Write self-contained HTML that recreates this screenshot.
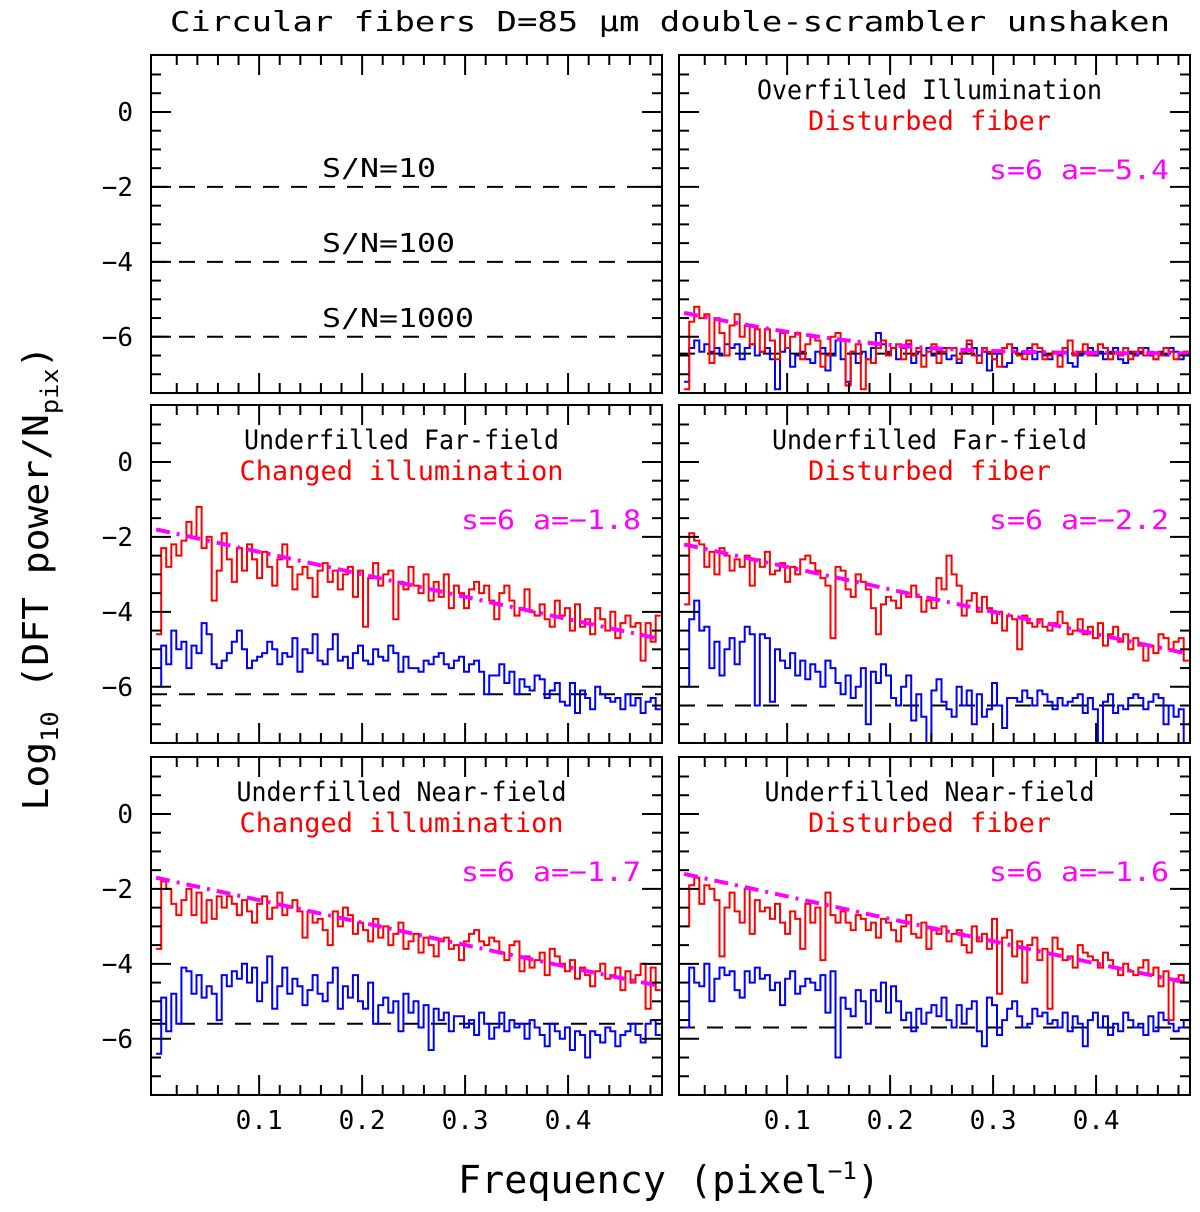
<!DOCTYPE html>
<html><head><meta charset="utf-8"><style>
body{margin:0;background:#fff}
svg text{font-family:"DejaVu Sans Mono","Liberation Mono",monospace}
</style></head><body>
<svg id="chart" width="1200" height="1207" viewBox="0 0 1200 1207" xmlns="http://www.w3.org/2000/svg">
<text x="670" y="31" font-size="28" text-anchor="middle" textLength="1000" lengthAdjust="spacingAndGlyphs">Circular fibers D=85 μm double-scrambler unshaken</text>
<text x="669" y="1193" font-size="38" text-anchor="middle" textLength="422" lengthAdjust="spacingAndGlyphs">Frequency (pixel<tspan dy="-14" font-size="24">−1</tspan><tspan dy="14">)</tspan></text>
<text transform="translate(48,578) rotate(-90)" font-size="36" text-anchor="middle" textLength="465" lengthAdjust="spacingAndGlyphs">Log<tspan dy="10" font-size="24">10</tspan><tspan dy="-10"> (DFT power/N</tspan><tspan dy="10" font-size="24">pix</tspan><tspan dy="-10">)</tspan></text>
<g id="panels"></g>
</svg>
<script>
const xTickLabels=["0.1","0.2","0.3","0.4"];
const xTickValues=[0.1,0.2,0.3,0.4];
const yTickValues=[0,-2,-4,-6];
const binWidth=0.0049;
const trRed=[-7.4,-5.6,-5.2,-5.5,-5.4,-6.7,-5.5,-5.9,-6.5,-5.7,-5.4,-6.0,-5.7,-6.2,-5.8,-6.4,-5.8,-6.1,-6.6,-5.9,-6.3,-6.0,-5.9,-6.6,-6.2,-6.0,-6.1,-6.8,-6.5,-6.0,-5.9,-6.1,-7.3,-6.4,-6.2,-7.4,-6.6,-6.7,-6.3,-6.1,-6.5,-6.3,-6.2,-6.6,-6.1,-6.5,-6.3,-6.8,-6.4,-6.2,-6.7,-6.4,-6.3,-6.3,-6.6,-6.4,-6.1,-6.5,-6.7,-6.3,-6.4,-6.6,-6.8,-6.3,-6.2,-6.4,-6.5,-6.6,-6.4,-6.2,-6.3,-6.6,-6.5,-6.4,-6.8,-6.3,-6.1,-6.5,-6.4,-6.2,-6.5,-6.4,-6.2,-6.3,-6.6,-6.4,-6.5,-6.3,-6.6,-6.4,-6.3,-6.5,-6.4,-6.6,-6.5,-6.3,-6.4,-6.6,-6.5,-6.4];
const trBlue=[-7.2,-6.3,-6.1,-6.4,-6.2,-6.4,-6.3,-6.5,-6.2,-6.3,-6.2,-6.6,-6.3,-6.2,-6.5,-6.4,-6.3,-6.6,-7.4,-6.4,-6.3,-6.8,-6.5,-6.4,-6.6,-6.7,-6.4,-6.3,-6.9,-6.5,-6.1,-6.6,-7.2,-6.4,-6.7,-6.4,-6.6,-6.3,-5.9,-6.2,-6.4,-6.3,-6.6,-6.3,-6.2,-6.7,-6.4,-6.5,-6.3,-6.5,-6.4,-6.3,-6.6,-6.5,-6.7,-6.4,-6.2,-6.3,-6.5,-6.4,-6.9,-6.6,-6.4,-6.8,-6.7,-6.3,-6.5,-6.4,-6.3,-6.6,-6.4,-6.5,-6.6,-6.4,-6.5,-6.3,-6.7,-6.8,-6.5,-6.4,-6.3,-6.5,-6.4,-6.6,-6.4,-6.3,-6.6,-6.7,-6.4,-6.5,-6.4,-6.3,-6.5,-6.6,-6.4,-6.5,-6.3,-6.4,-6.6,-6.4];
const mlRed=[-4.6,-2.3,-2.8,-2.2,-2.5,-2.1,-1.6,-2.0,-1.2,-2.3,-2.0,-3.7,-2.9,-1.9,-2.6,-3.2,-2.3,-2.9,-2.2,-2.6,-3.1,-2.4,-2.8,-3.3,-2.6,-2.2,-2.8,-3.4,-3.0,-2.8,-3.1,-3.6,-2.9,-2.7,-3.2,-2.9,-3.4,-3.0,-2.8,-3.6,-2.9,-4.4,-3.1,-2.7,-3.3,-3.0,-2.9,-4.2,-3.2,-3.4,-2.8,-3.3,-3.5,-3.0,-3.7,-3.2,-3.6,-3.0,-3.9,-3.3,-3.5,-3.9,-3.4,-3.2,-3.5,-3.3,-3.7,-4.2,-3.5,-3.3,-3.7,-4.1,-3.9,-3.4,-4.0,-4.1,-3.8,-4.2,-4.4,-3.7,-4.1,-3.9,-4.5,-3.8,-4.4,-4.2,-4.6,-3.9,-4.2,-4.5,-4.0,-4.7,-4.3,-4.1,-4.4,-4.3,-5.3,-4.3,-4.8,-4.1];
const mlBlue=[-6.0,-4.9,-5.4,-4.5,-5.0,-4.8,-5.5,-4.9,-5.1,-4.3,-4.6,-5.4,-5.5,-5.3,-5.1,-4.8,-4.5,-5.0,-5.5,-5.3,-5.2,-5.1,-4.8,-5.0,-5.4,-5.1,-5.2,-4.7,-5.6,-5.0,-5.1,-4.6,-5.3,-5.4,-5.0,-4.6,-5.3,-5.2,-5.5,-5.1,-4.9,-5.3,-5.4,-5.0,-5.2,-5.3,-4.9,-5.1,-5.6,-5.2,-5.5,-5.5,-5.6,-5.3,-5.4,-5.2,-5.1,-5.4,-5.5,-5.3,-5.2,-5.6,-5.4,-5.3,-5.6,-6.2,-5.7,-5.7,-5.4,-5.9,-5.6,-6.2,-5.8,-6.0,-6.1,-5.7,-5.8,-6.3,-6.1,-5.9,-6.4,-6.5,-5.9,-6.7,-6.1,-6.3,-6.6,-6.0,-6.2,-6.3,-6.4,-6.3,-6.6,-6.2,-6.5,-6.3,-6.7,-6.4,-6.3,-6.6];
const mrRed=[-3.8,-1.9,-2.1,-2.2,-2.8,-2.4,-3.0,-2.3,-2.5,-2.9,-2.6,-2.8,-2.5,-3.3,-2.6,-2.8,-2.4,-3.0,-2.9,-2.7,-3.2,-2.8,-3.0,-2.6,-2.5,-2.7,-2.9,-3.1,-3.3,-4.7,-2.8,-2.9,-3.4,-3.6,-3.0,-3.2,-3.4,-3.9,-4.6,-3.8,-3.6,-3.7,-3.9,-3.5,-3.6,-3.3,-3.6,-4.0,-3.7,-3.9,-3.1,-3.4,-2.5,-3.0,-3.3,-4.1,-3.7,-3.5,-4.0,-3.6,-3.9,-4.3,-4.0,-4.5,-4.1,-4.2,-5.0,-4.1,-4.3,-4.4,-4.2,-4.4,-4.5,-4.3,-4.0,-4.3,-4.6,-4.5,-4.2,-4.6,-4.4,-4.7,-4.3,-4.9,-4.6,-4.4,-4.8,-4.6,-5.0,-4.7,-4.9,-5.3,-4.9,-5.1,-4.6,-4.7,-5.0,-4.8,-4.7,-5.3];
const mrBlue=[-6.0,-4.2,-3.7,-4.5,-4.4,-5.5,-4.8,-5.7,-5.0,-4.7,-5.4,-4.8,-4.4,-4.6,-6.5,-4.6,-4.7,-6.4,-5.0,-5.3,-5.5,-5.1,-5.7,-5.3,-5.8,-5.4,-5.6,-6.0,-5.3,-5.5,-5.9,-6.2,-5.7,-6.3,-6.0,-5.5,-7.0,-5.6,-5.9,-5.4,-5.7,-6.3,-6.5,-6.0,-5.7,-6.9,-6.2,-6.8,-7.6,-6.1,-5.8,-6.4,-6.6,-6.8,-6.0,-6.5,-6.1,-7.0,-6.2,-6.8,-6.6,-5.9,-6.5,-7.1,-6.3,-6.3,-6.4,-6.1,-6.3,-6.5,-6.1,-6.2,-6.4,-6.6,-6.3,-6.5,-6.4,-6.3,-6.2,-6.7,-6.3,-6.6,-7.5,-6.4,-6.2,-6.7,-6.5,-6.6,-6.3,-6.2,-6.3,-6.6,-6.4,-6.2,-6.3,-7.0,-6.5,-6.8,-6.6,-7.5];
const blRed=[-3.6,-1.8,-2.0,-2.4,-2.7,-2.3,-2.0,-2.7,-2.1,-2.9,-2.3,-2.8,-2.2,-2.5,-2.2,-2.4,-2.7,-2.3,-2.6,-2.9,-2.4,-2.2,-2.8,-2.5,-2.1,-2.7,-2.5,-2.3,-2.6,-3.3,-2.6,-2.9,-2.8,-3.1,-3.5,-2.6,-3.0,-2.5,-2.7,-3.2,-2.9,-3.1,-3.4,-2.8,-3.3,-3.0,-3.5,-3.2,-2.9,-3.6,-3.4,-3.2,-3.7,-3.3,-3.5,-3.8,-3.4,-3.3,-3.6,-3.5,-3.9,-3.4,-3.2,-3.1,-3.4,-3.5,-3.3,-3.4,-3.7,-3.9,-3.5,-3.4,-4.2,-3.8,-4.1,-3.9,-3.7,-4.3,-3.6,-3.8,-4.0,-4.2,-3.9,-4.4,-4.1,-4.3,-4.6,-4.2,-4.0,-4.4,-4.3,-4.1,-4.7,-4.2,-4.5,-4.3,-4.0,-5.2,-4.1,-4.7];
const blBlue=[-6.4,-4.9,-5.8,-4.8,-5.6,-4.1,-4.2,-4.8,-4.3,-4.9,-4.6,-4.8,-5.5,-4.3,-4.6,-4.2,-4.4,-4.0,-4.5,-4.1,-5.0,-4.5,-3.8,-5.2,-4.6,-4.1,-4.8,-4.4,-4.6,-5.1,-4.7,-4.3,-4.8,-5.0,-4.5,-4.1,-5.2,-4.6,-4.9,-4.3,-5.0,-5.2,-4.5,-5.6,-5.1,-4.9,-5.3,-5.0,-5.8,-4.8,-5.3,-5.0,-5.7,-5.1,-6.3,-5.2,-5.5,-5.3,-5.8,-5.4,-5.4,-5.7,-5.5,-5.9,-5.3,-5.6,-6.0,-5.7,-5.3,-5.8,-5.5,-5.7,-5.6,-6.0,-5.5,-5.7,-5.9,-6.2,-5.6,-5.8,-6.0,-5.7,-6.3,-5.8,-5.9,-6.5,-5.8,-5.9,-6.1,-5.7,-5.8,-6.2,-5.9,-5.8,-5.6,-5.9,-6.1,-5.6,-5.5,-5.9];
const brRed=[-3.0,-1.9,-1.7,-2.4,-1.9,-2.0,-2.3,-3.8,-2.5,-2.1,-2.6,-2.9,-2.0,-3.2,-2.3,-2.6,-2.5,-2.8,-2.4,-2.9,-3.2,-2.6,-2.8,-3.6,-2.4,-2.9,-2.5,-3.9,-2.1,-2.7,-2.9,-2.6,-2.9,-3.1,-2.7,-2.8,-3.1,-2.9,-3.3,-2.8,-2.9,-3.1,-3.4,-3.0,-2.7,-3.2,-3.3,-2.9,-3.6,-3.1,-3.2,-3.0,-3.4,-3.2,-3.1,-3.5,-3.7,-3.0,-3.4,-3.2,-3.6,-2.8,-4.8,-3.3,-3.1,-3.8,-3.4,-4.5,-3.5,-3.3,-3.9,-3.6,-5.2,-3.3,-3.6,-3.9,-3.8,-4.1,-3.5,-3.7,-3.8,-3.9,-4.1,-3.7,-3.9,-4.1,-4.3,-4.0,-4.2,-4.3,-4.1,-3.9,-4.3,-4.1,-4.6,-4.2,-5.5,-4.4,-4.3,-4.5];
const brBlue=[-5.7,-4.1,-4.5,-4.6,-4.0,-5.0,-4.4,-4.1,-4.3,-4.2,-4.7,-4.9,-4.2,-4.5,-4.1,-4.4,-4.3,-4.7,-4.5,-5.1,-4.4,-4.2,-4.8,-4.6,-4.4,-4.5,-4.7,-4.3,-5.3,-4.2,-6.5,-4.9,-5.2,-5.4,-4.7,-5.0,-5.6,-4.7,-5.0,-4.5,-5.3,-4.6,-5.0,-5.5,-5.3,-5.8,-5.2,-5.6,-5.3,-5.1,-5.4,-4.9,-5.5,-5.7,-5.1,-5.6,-5.2,-5.0,-5.8,-6.2,-4.9,-5.1,-5.9,-5.5,-5.2,-5.0,-5.4,-5.7,-5.6,-5.2,-5.4,-5.3,-5.6,-5.5,-5.7,-5.3,-5.8,-5.4,-5.6,-6.2,-5.5,-5.3,-5.7,-5.4,-5.9,-5.6,-5.8,-5.3,-5.5,-5.7,-5.6,-5.9,-5.4,-5.8,-5.3,-5.5,-5.6,-5.8,-5.7,-5.5];
const fitA=[null,-5.4,-1.8,-2.2,-1.7,-1.6];
const fitS=[null,6,6,6,6,6];
const floors=[null,-6.45,-6.2,-6.5,-5.6,-5.7];
const line1=[null,"Overfilled Illumination","Underfilled Far-field","Underfilled Far-field","Underfilled Near-field","Underfilled Near-field"];
const line2=[null,"Disturbed fiber","Changed illumination","Disturbed fiber","Changed illumination","Disturbed fiber"];
const snLevels=[-2,-4,-6];
const snLabels=["S/N=10","S/N=100","S/N=1000"];
const redSeries=[null,trRed,mlRed,mrRed,blRed,brRed];
const blueSeries=[null,trBlue,mlBlue,mrBlue,blBlue,brBlue];

const NS="http://www.w3.org/2000/svg";
const root=document.getElementById('panels');
const X0=-0.005,X1=0.4912,Y0=-7.5,Y1=1.52;
const boxes=[[151,55],[679,55],[151,405],[679,405],[151,757],[679,757]];
const PW=511,PH=338;
function mk(tag,attrs,parent){const e=document.createElementNS(NS,tag);for(const k in attrs)e.setAttribute(k,attrs[k]);parent.appendChild(e);return e;}
boxes.forEach((b,i)=>{
  const [bx,by]=b;
  const sx=v=>bx+(v-X0)/(X1-X0)*PW;
  const sy=v=>by+(Y1-v)/(Y1-Y0)*PH;
  const g=mk('g',{},root);
  
  
  const cid='clip'+i;
  const cp=mk('clipPath',{id:cid},g);
  mk('rect',{x:bx,y:by,width:PW,height:PH},cp);
  const plot=mk('g',{'clip-path':'url(#'+cid+')'},g);
  if(i===0){
    snLevels.forEach((lv,k)=>{
      const l=mk('line',{x1:bx,x2:bx+PW,y1:sy(lv),y2:sy(lv),stroke:'#000','stroke-width':2,'stroke-dasharray':'16,12'},plot);
      
      
      const t=mk('text',{x:322,y:sy(lv)-10,'font-size':26,textLength:snLabels[k].length*19,lengthAdjust:'spacingAndGlyphs'},g);
      
      
      t.textContent=snLabels[k];
    });
  } else {
    const fl=mk('line',{x1:bx,x2:bx+PW,y1:sy(floors[i]),y2:sy(floors[i]),stroke:'#000','stroke-width':2,'stroke-dasharray':'16,12'},plot);
    
    
    [[blueSeries[i],'#0000ff','blue-spectrum'],[redSeries[i],'#ff0000','red-spectrum']].forEach(([arr,col,nm])=>{
      let d='';
      arr.forEach((v,k)=>{const xa=sx(k*binWidth),xb=sx((k+1)*binWidth);d+=(k?'L':'M')+xa.toFixed(1)+','+sy(v).toFixed(1)+'L'+xb.toFixed(1)+','+sy(v).toFixed(1);});
      const p=mk('path',{d:d,fill:'none',stroke:col,'stroke-width':2},plot);
      
      
    });
    let d='';
    for(let k=0;k<=100;k++){const f=k*0.0049;const v=Math.log10(Math.pow(10,fitA[i]-fitS[i]*f)+Math.pow(10,floors[i]));d+=(k?'L':'M')+sx(f).toFixed(1)+','+sy(v).toFixed(1);}
    const fp=mk('path',{d:d,fill:'none',stroke:'#ff00ff','stroke-width':4,'stroke-dasharray':'14,7,3,7'},plot);
    
    
    const cx=bx+PW/2-5;
    const t1=mk('text',{x:cx,y:by+44,'font-size':27,'text-anchor':'middle',textLength:line1[i].length*15,lengthAdjust:'spacingAndGlyphs'},g);
    
    
    t1.textContent=line1[i];
    const t2=mk('text',{x:cx,y:by+75,'font-size':27,'text-anchor':'middle',fill:'#ff0000',textLength:line2[i].length*16.2,lengthAdjust:'spacingAndGlyphs'},g);
    
    
    t2.textContent=line2[i];
    const t3=mk('text',{x:bx+PW-21,y:by+124,'font-size':27,'text-anchor':'end',fill:'#ff00ff',textLength:180,lengthAdjust:'spacingAndGlyphs'},g);
    
    
    t3.textContent='s='+fitS[i]+' a=−'+Math.abs(fitA[i]).toFixed(1);
  }
  mk('rect',{x:bx,y:by,width:PW,height:PH,fill:'none',stroke:'#000','stroke-width':2},g);
  for(let v=0.02;v<X1;v+=0.02){
    const major=Math.abs(v*10-Math.round(v*10))<1e-6;const L=major?20:10;const x=sx(v);
    mk('line',{x1:x,x2:x,y1:by+PH,y2:by+PH-L,stroke:'#000','stroke-width':2},g);
    mk('line',{x1:x,x2:x,y1:by,y2:by+L,stroke:'#000','stroke-width':2},g);
  }
  for(let v=-7;v<=1;v+=0.5){
    const major=Math.abs(v/2-Math.round(v/2))<1e-6;const L=major?20:10;const y=sy(v);
    mk('line',{x1:bx,x2:bx+L,y1:y,y2:y,stroke:'#000','stroke-width':2},g);
    mk('line',{x1:bx+PW,x2:bx+PW-L,y1:y,y2:y,stroke:'#000','stroke-width':2},g);
  }
  if(i%2===0){
    yTickValues.forEach(v=>{
      const t=mk('text',{x:133,y:sy(v)+9,'font-size':26,'text-anchor':'end'},g);
      
      
      t.textContent=(v<0?'−':'')+Math.abs(v);
    });
  }
  if(i>=4){
    xTickValues.forEach((v,k)=>{
      const t=mk('text',{x:sx(v),y:1129,'font-size':26,'text-anchor':'middle'},g);
      
      
      t.textContent=xTickLabels[k];
    });
  }
});
</script>
</body></html>
